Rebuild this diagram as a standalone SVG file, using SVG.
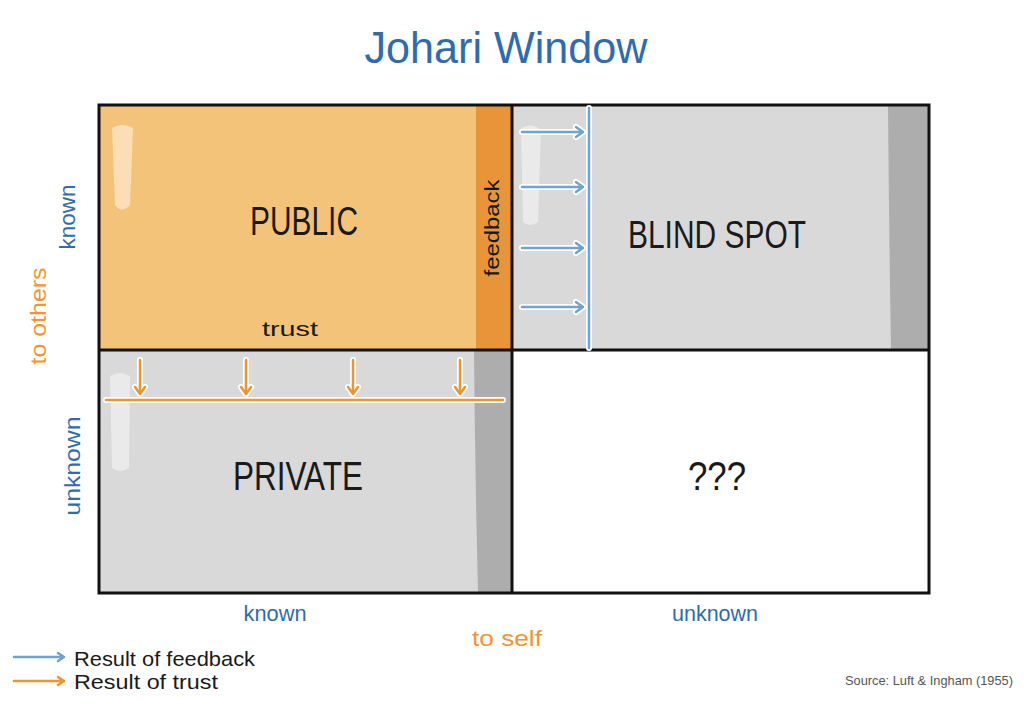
<svg xmlns="http://www.w3.org/2000/svg" width="1024" height="706" viewBox="0 0 1024 706">
<style>
.t{font-family:"Liberation Sans",Arial,sans-serif;}
.blue{fill:#2F6CAD;}
.orange{fill:#F0962F;}
.dark{fill:#1a1a1a;}
.halo{fill:none;stroke:#ffffff;stroke-width:6;stroke-linecap:round;stroke-linejoin:round;}
.fb{fill:none;stroke:#6FA3D2;stroke-width:2.5;stroke-linecap:round;stroke-linejoin:round;}
.tr{fill:none;stroke:#EE9532;stroke-width:2.5;stroke-linecap:round;stroke-linejoin:round;}
.hl{fill:#ffffff;opacity:0.45;}
</style>
<rect width="1024" height="706" fill="#ffffff"/>
<text class="t blue" x="506" y="63" font-size="44" text-anchor="middle" textLength="283" lengthAdjust="spacingAndGlyphs">Johari Window</text>

<g id="public">
<rect x="99" y="105" width="413" height="245" fill="#F4C37A"/>
<rect x="476" y="105" width="36" height="245" fill="#E8953A"/>
<path class="hl" d="M112,128 Q122,122 133,128 L130,205 Q122,214 115,205 Z"/>
<text class="t dark" x="304" y="235" font-size="40" text-anchor="middle" textLength="108" lengthAdjust="spacingAndGlyphs">PUBLIC</text>
<text class="t dark" x="290" y="336" font-size="21" text-anchor="middle" textLength="56" lengthAdjust="spacingAndGlyphs">trust</text>
<text class="t dark" transform="translate(499,228) rotate(-90)" font-size="21" text-anchor="middle" textLength="97" lengthAdjust="spacingAndGlyphs">feedback</text>
</g>

<g id="blind-spot">
<rect x="512" y="105" width="417" height="245" fill="#D9D9D9"/>
<path d="M888,105 L929,105 L929,350 L891,350 Q889,230 888,105 Z" fill="#ADADAD"/>
<path class="hl" d="M521,128 Q532,122 541,130 L538,222 Q530,228 523,222 Z"/>
<text class="t dark" x="717" y="248" font-size="38" text-anchor="middle" textLength="178" lengthAdjust="spacingAndGlyphs">BLIND SPOT</text>
</g>

<g id="private">
<rect x="99" y="350" width="413" height="243" fill="#D9D9D9"/>
<path d="M474,350 L512,350 L512,593 L478,593 Q475,470 474,350 Z" fill="#ADADAD"/>
<path class="hl" d="M110,376 Q120,370 130,376 L129,468 Q120,474 112,468 Z"/>
<text class="t dark" x="298" y="490" font-size="40" text-anchor="middle" textLength="130" lengthAdjust="spacingAndGlyphs">PRIVATE</text>
</g>

<g id="unknown">
<rect x="512" y="350" width="417" height="243" fill="#ffffff"/>
<text class="t dark" x="717" y="490" font-size="40" text-anchor="middle" textLength="58" lengthAdjust="spacingAndGlyphs">???</text>
</g>

<g id="grid">
<rect x="99" y="105" width="830" height="488" fill="none" stroke="#111" stroke-width="3"/>
<line x1="512" y1="105" x2="512" y2="593" stroke="#111" stroke-width="3"/>
<line x1="99" y1="350" x2="929" y2="350" stroke="#111" stroke-width="3"/>
</g>

<g id="connectors">
<!-- feedback arrows -->
<path class="halo" d="M589,108 L589,348 M522,132 L583,132 M576,127 L583,132 L576,137 M522,187 L583,187 M576,182 L583,187 L576,192 M522,248 L583,248 M576,243 L583,248 L576,253 M522,307 L583,307 M576,302 L583,307 L576,312"/>
<path class="fb" d="M589,108 L589,348 M522,132 L583,132 M576,127 L583,132 L576,137 M522,187 L583,187 M576,182 L583,187 L576,192 M522,248 L583,248 M576,243 L583,248 L576,253 M522,307 L583,307 M576,302 L583,307 L576,312"/>
<!-- trust arrows -->
<path class="halo" d="M106,400 L503,400 M140,360 L140,394 M135,387 L140,394 L145,387 M246,360 L246,394 M241,387 L246,394 L251,387 M353,360 L353,394 M348,387 L353,394 L358,387 M460,360 L460,394 M455,387 L460,394 L465,387"/>
<path class="tr" d="M106,400 L503,400 M140,360 L140,394 M135,387 L140,394 L145,387 M246,360 L246,394 M241,387 L246,394 L251,387 M353,360 L353,394 M348,387 L353,394 L358,387 M460,360 L460,394 M455,387 L460,394 L465,387"/>
<!-- legend arrows -->
<path class="fb" d="M14,657 L64,657 M58,653 L64,657 L58,661"/>
<path class="tr" d="M14,681 L64,681 M58,677 L64,681 L58,685"/>
</g>

<g id="axis-labels">
<text class="t blue" transform="translate(75,217) rotate(-90)" font-size="22" text-anchor="middle" textLength="65" lengthAdjust="spacingAndGlyphs">known</text>
<text class="t orange" transform="translate(46,316) rotate(-90)" font-size="22" text-anchor="middle" textLength="97" lengthAdjust="spacingAndGlyphs">to others</text>
<text class="t blue" transform="translate(80,466) rotate(-90)" font-size="22" text-anchor="middle" textLength="99" lengthAdjust="spacingAndGlyphs">unknown</text>
<text class="t blue" x="275" y="621" font-size="22" text-anchor="middle" textLength="63" lengthAdjust="spacingAndGlyphs">known</text>
<text class="t blue" x="715" y="621" font-size="22" text-anchor="middle" textLength="86" lengthAdjust="spacingAndGlyphs">unknown</text>
<text class="t orange" x="507" y="646" font-size="22" text-anchor="middle" textLength="70" lengthAdjust="spacingAndGlyphs">to self</text>
</g>

<g id="legend">
<text class="t dark" x="74" y="666" font-size="21" textLength="181" lengthAdjust="spacingAndGlyphs">Result of feedback</text>
<text class="t dark" x="74" y="689" font-size="21" textLength="144" lengthAdjust="spacingAndGlyphs">Result of trust</text>
<text class="t" x="1013" y="685" font-size="13" fill="#555555" text-anchor="end" textLength="168" lengthAdjust="spacingAndGlyphs">Source: Luft &amp; Ingham (1955)</text>
</g>
</svg>
